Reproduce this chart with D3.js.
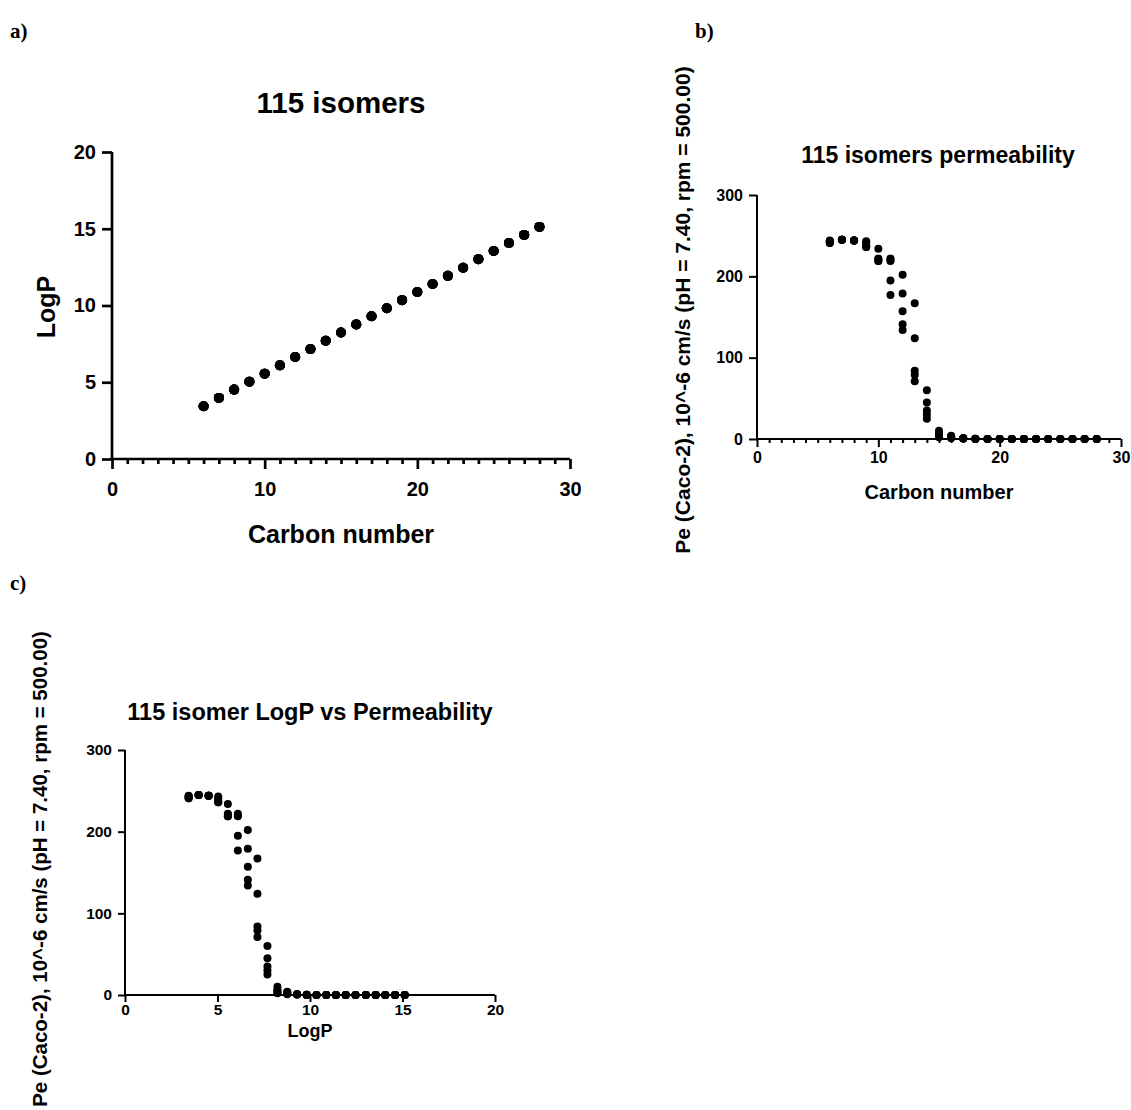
<!DOCTYPE html>
<html>
<head>
<meta charset="utf-8">
<script src="https://cdn.jsdelivr.net/npm/d3@7"></script>
<style>
  body { margin: 0; background: #fff; }
  text { font-family: "Liberation Sans", Arial, sans-serif; font-weight: bold; fill: #000; }
  .panel-tag { font-family: "Liberation Serif", "Times New Roman", serif; }
</style>
</head>
<body>
<svg width="1131" height="1110"></svg>
<script>
// carbon number of each group of isomers (5 isomers per carbon number, 115 total)
var carbonNumbers = [6, 7, 8, 9, 10, 11, 12, 13, 14, 15, 16, 17, 18, 19, 20, 21, 22, 23, 24, 25, 26, 27, 28];

// LogP for each carbon number
var logP = [3.44, 3.98, 4.52, 5.04, 5.56, 6.10, 6.64, 7.16, 7.70, 8.24, 8.77, 9.30, 9.82, 10.35,
            10.88, 11.40, 11.93, 12.46, 13.02, 13.55, 14.07, 14.60, 15.12];

// permeability (10^-6 cm/s) of the five isomers at each carbon number
var permeability = [
  [244, 243, 243, 241, 241],
  [245, 245, 245, 245, 245],
  [244, 244, 244, 244, 244],
  [243, 241, 238, 236, 236],
  [234, 222, 221, 219, 219],
  [222, 220, 219, 195, 177],
  [202, 179, 157, 141, 134],
  [167, 124, 84, 79, 71],
  [60, 45, 35, 30, 25],
  [10, 7, 5, 3, 2],
  [4, 3, 2, 2, 1],
  [1, 1, 1, 0.5, 0.5],
  [0.2, 0.2, 0.2, 0.1, 0.1],
  [0.1, 0.1, 0.1, 0.1, 0.1],
  [0, 0, 0, 0, 0],
  [0, 0, 0, 0, 0],
  [0, 0, 0, 0, 0],
  [0, 0, 0, 0, 0],
  [0, 0, 0, 0, 0],
  [0, 0, 0, 0, 0],
  [0, 0, 0, 0, 0],
  [0, 0, 0, 0, 0],
  [0, 0, 0, 0, 0]
];

var carbonTicks = [0, 10, 20, 30];
var logPTicks = [0, 5, 10, 15, 20];
var permTicks = [0, 100, 200, 300];

var svg = d3.select("svg");

// flatten into one row per isomer
var isomers = [];
carbonNumbers.forEach(function(c, i) {
  permeability[i].forEach(function(p) {
    isomers.push({carbon: c, logP: logP[i], perm: p});
  });
});

function panel(o) {
  var g = svg.append("g");
  var x = d3.scaleLinear().domain(o.xDomain).range([o.left, o.right]);
  var y = d3.scaleLinear().domain(o.yDomain).range([o.bottom, o.top]);

  // minor ticks on the x axis
  if (o.minor) {
    var minor = d3.range(o.xDomain[0], o.xDomain[1] + 1, 1).filter(function(v) { return o.xTicks.indexOf(v) < 0; });
    g.append("g")
        .attr("transform", "translate(0," + o.bottom + ")")
        .call(d3.axisBottom(x).tickValues(minor).tickSize(o.minorSize).tickFormat(""))
        .call(function(a) { a.select(".domain").remove(); })
        .selectAll("line").attr("stroke-width", o.sw);
  }

  var xa = g.append("g")
      .attr("transform", "translate(0," + o.bottom + ")")
      .call(d3.axisBottom(x).tickValues(o.xTicks).tickSize(o.tickSize).tickSizeOuter(0).tickPadding(o.xPad));
  var ya = g.append("g")
      .attr("transform", "translate(" + o.left + ",0)")
      .call(d3.axisLeft(y).tickValues(o.yTicks).tickSize(o.tickSize).tickSizeOuter(0).tickPadding(o.yPad));

  [xa, ya].forEach(function(a) {
    a.select(".domain").attr("stroke-width", o.sw).attr("stroke", "#000");
    a.selectAll("line").attr("stroke-width", o.sw).attr("stroke", "#000");
    a.selectAll("text").style("font-size", o.tickFont + "px")
        .style("font-family", "Liberation Sans, Arial, sans-serif").style("font-weight", "bold");
  });
  // let the axis lines overlap at the origin
  xa.select(".domain").attr("d", "M" + (o.left - o.sw / 2) + ",0H" + o.right);
  ya.select(".domain").attr("d", "M0," + o.top + "V" + (o.bottom + o.sw / 2));

  g.selectAll("circle")
    .data(isomers)
    .enter().append("circle")
      .attr("cx", function(d) { return x(d[o.xKey]); })
      .attr("cy", function(d) { return y(d[o.yKey]); })
      .attr("r", o.r)
      .attr("fill", "#000");

  g.append("text")
      .attr("x", o.titleX)
      .attr("y", o.titleY)
      .attr("text-anchor", "middle")
      .style("font-size", o.titleFont + "px")
      .text(o.title);

  g.append("text")
      .attr("x", (o.left + o.right) / 2)
      .attr("y", o.xLabelY)
      .attr("text-anchor", "middle")
      .style("font-size", o.labelFont + "px")
      .text(o.xLabel);

  g.append("text")
      .attr("transform", "translate(" + o.yLabelX + "," + o.yLabelY + ") rotate(-90)")
      .attr("text-anchor", "middle")
      .style("font-size", o.yLabelFont + "px")
      .text(o.yLabel);

  svg.append("text")
      .attr("class", "panel-tag")
      .attr("x", o.tag[1])
      .attr("y", o.tag[2])
      .style("font-size", "21px")
      .text(o.tag[0]);
}

var permLabel = "Pe (Caco-2), 10^-6 cm/s (pH = 7.40, rpm = 500.00)";

panel({
  left: 112, right: 570, top: 152, bottom: 459,
  xDomain: [0, 30], yDomain: [0, 20], xTicks: carbonTicks, yTicks: logPTicks,
  xKey: "carbon", yKey: "logP", r: 5, sw: 2.7, tickSize: 10, minorSize: 5, minor: true, xPad: 13, yPad: 6,
  tickFont: 20, title: "115 isomers", titleFont: 29.5, titleX: 341, titleY: 113,
  xLabel: "Carbon number", xLabelY: 543, labelFont: 25,
  yLabel: "LogP", yLabelX: 55, yLabelY: 307, yLabelFont: 25,
  tag: ["a)", 10, 38]
});

panel({
  left: 757, right: 1121, top: 195, bottom: 439,
  xDomain: [0, 30], yDomain: [0, 300], xTicks: carbonTicks, yTicks: permTicks,
  xKey: "carbon", yKey: "perm", r: 4, sw: 2, tickSize: 8, minorSize: 4, minor: true, xPad: 5, yPad: 6,
  tickFont: 16, title: "115 isomers permeability", titleFont: 23, titleX: 938, titleY: 163,
  xLabel: "Carbon number", xLabelY: 499, labelFont: 20,
  yLabel: permLabel, yLabelX: 690, yLabelY: 310, yLabelFont: 21,
  tag: ["b)", 695, 38]
});

panel({
  left: 125, right: 495, top: 750, bottom: 995,
  xDomain: [0, 20], yDomain: [0, 300], xTicks: logPTicks, yTicks: permTicks,
  xKey: "logP", yKey: "perm", r: 4, sw: 2, tickSize: 7, minorSize: 4, minor: false, xPad: 2, yPad: 6,
  tickFont: 15.5, title: "115 isomer LogP vs Permeability", titleFont: 23.5, titleX: 310, titleY: 720,
  xLabel: "LogP", xLabelY: 1037, labelFont: 18,
  yLabel: permLabel, yLabelX: 47, yLabelY: 869, yLabelFont: 20.5,
  tag: ["c)", 10, 590]
});
</script>
</body>
</html>
